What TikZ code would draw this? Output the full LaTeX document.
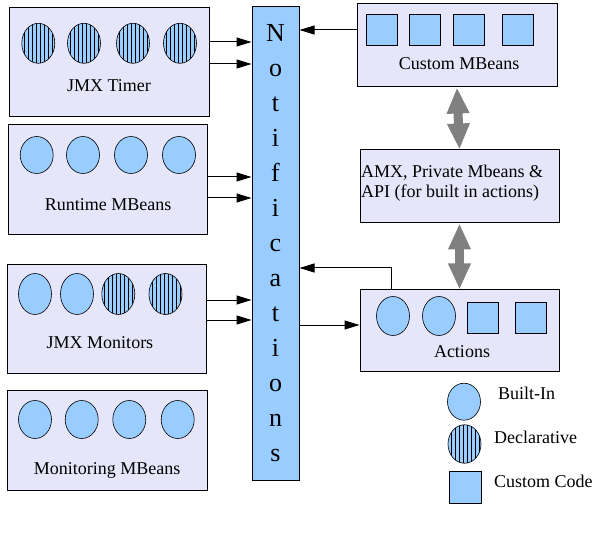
\documentclass[tikz,border=0pt]{standalone}
\usepackage{fontspec}
\setmainfont{Liberation Serif}
\usetikzlibrary{shapes.geometric,arrows.meta}
\definecolor{boxfill}{RGB}{230,230,250}
\definecolor{beanblue}{RGB}{153,204,255}
\definecolor{arrgray}{RGB}{128,128,128}
\tikzset{
  grp/.style={draw=black, line width=1pt, fill=boxfill, rectangle, inner sep=0pt},
  bean/.style={ellipse, draw=black, line width=0.6pt, fill=beanblue, inner sep=0pt, minimum width=33pt},
  decl/.style={bean, path picture={
      \foreach \k in {-13.7,-9.7,...,15}
        \draw[line width=0.55pt] ([xshift=\k pt]path picture bounding box.north) -- ([xshift=\k pt]path picture bounding box.south);}},
  cust/.style={rectangle, draw=black, line width=0.8pt, fill=beanblue, inner sep=0pt, minimum size=31pt},
  lbl/.style={font=\fontsize{18}{20}\selectfont, inner sep=0pt, anchor=base},
  letter/.style={font=\fontsize{26}{30}\selectfont, inner sep=0pt, anchor=base},
  arr/.style={line width=1pt, -{Triangle[length=15pt,width=9pt]}},
  dbl/.style={draw=arrgray, line width=9pt, {Triangle[length=26pt,width=21pt]}-{Triangle[length=26pt,width=21pt]}}
}
\begin{document}
\begin{tikzpicture}[x=1pt,y=-1pt]
\useasboundingbox (0,0) rectangle (600,540);
\fill[white] (0,0) rectangle (600,540);

% group boxes
\node[grp, minimum width=200, minimum height=109] (timer) at (109,62.5) {};
\node[grp, minimum width=199, minimum height=110] (runtime) at (107.5,180) {};
\node[grp, minimum width=199, minimum height=108] (monitors) at (106.5,319) {};
\node[grp, minimum width=200, minimum height=100] (monitoring) at (107,440) {};
\node[grp, minimum width=200, minimum height=83] (custom) at (457,45.5) {};
\node[grp, minimum width=199, minimum height=73] (amx) at (459.5,186.5) {};
\node[grp, minimum width=199, minimum height=81] (actions) at (459.5,330.5) {};
\node[rectangle, draw=black, line width=1pt, fill=beanblue, minimum width=47, minimum height=473, inner sep=0pt] (notif) at (275.5,243.5) {};

% Notifications letters
\foreach \ch [count=\k from 0] in {N,o,t,i,f,i,c,a,t,i,o,n,s}
  \node[letter] (l\k) at (275.5,41.5+35*\k) {\ch};

% JMX Timer
\foreach \x [count=\k] in {38.3,84,133,180}
  \node[decl, minimum height=40] (t\k) at (\x,43.3) {};
\node[lbl] (timerlbl) at (109,92) {JMX Timer};

% Runtime MBeans
\foreach \x [count=\k] in {36.7,83,131,179}
  \node[bean, minimum height=37] (r\k) at (\x,155) {};
\node[lbl] (runtimelbl) at (108,210.5) {Runtime MBeans};

% JMX Monitors
\node[bean, minimum height=41] (m1) at (35,294) {};
\node[bean, minimum height=41] (m2) at (77,294) {};
\node[decl, minimum height=41] (m3) at (118.3,294) {};
\node[decl, minimum height=41] (m4) at (165.5,294) {};
\node[lbl] (monitorslbl) at (100,348) {JMX Monitors};

% Monitoring MBeans
\foreach \x [count=\k] in {35,81.7,129.3,177.7}
  \node[bean, minimum height=38] (g\k) at (\x,419.5) {};
\node[lbl] (monitoringlbl) at (107,474) {Monitoring MBeans};

% Custom MBeans
\foreach \x [count=\k] in {381.5,425,469,517.5}
  \node[cust] (c\k) at (\x,30) {};
\node[lbl] (customlbl) at (459,70) {Custom MBeans};

% AMX
\node[font=\fontsize{18}{20}\selectfont, inner sep=0pt, anchor=north west, align=left] (amxlbl) at (361,164.4) {AMX, Private Mbeans \&\\API (for built in actions)};

% Actions
\node[bean, minimum height=39] (a1) at (393,316) {};
\node[bean, minimum height=39] (a2) at (439,316) {};
\node[cust] (a3) at (482.5,318) {};
\node[cust] (a4) at (531,318) {};
\node[lbl] (actionslbl) at (462,357) {Actions};

% Legend
\node[bean, minimum height=37] (legb) at (464,401.7) {};
\node[lbl, anchor=base west] (legbl) at (498,399) {Built-In};
\node[decl, minimum height=38.5] (legd) at (464.5,444) {};
\node[lbl, anchor=base west] (legdl) at (494,443) {Declarative};
\node[cust, minimum size=32] (legc) at (465,487.5) {};
\node[lbl, anchor=base west] (legcl) at (494,487) {Custom Code};

% helper coordinates for connector heights
\coordinate (y1) at (0,42);
\coordinate (y2) at (0,64);
\coordinate (y3) at (0,177);
\coordinate (y4) at (0,198);
\coordinate (y5) at (0,300);
\coordinate (y6) at (0,320);
\coordinate (y7) at (0,30);
\coordinate (y8) at (0,325);
\coordinate (fb) at (391,268);

% arrows into Notifications
\draw[arr] (timer.east |- y1) -- (notif.west |- y1);
\draw[arr] (timer.east |- y2) -- (notif.west |- y2);
\draw[arr] (runtime.east |- y3) -- (notif.west |- y3);
\draw[arr] (runtime.east |- y4) -- (notif.west |- y4);
\draw[arr] (monitors.east |- y5) -- (notif.west |- y5);
\draw[arr] (monitors.east |- y6) -- (notif.west |- y6);
\draw[arr] (custom.west |- y7) -- (notif.east |- y7);
\draw[arr] (notif.east |- y8) -- (actions.west |- y8);
\draw[arr] (actions.north -| fb) |- (notif.east |- fb);

% gray double arrows
\draw[dbl] (custom.south) -- (amx.north);
\draw[dbl] (amx.south) -- (actions.north);
\end{tikzpicture}
\end{document}
